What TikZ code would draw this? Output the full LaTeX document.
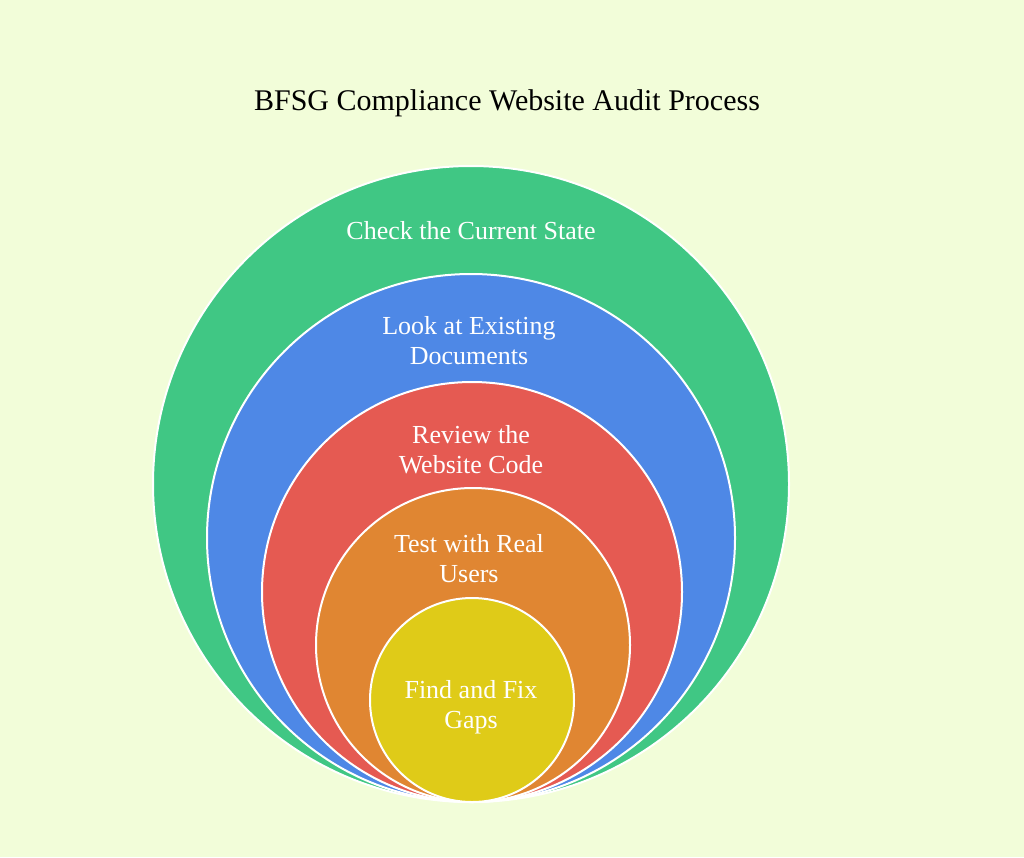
\documentclass[tikz,border=0pt]{standalone}
\usepackage{fontspec}
\setmainfont{Liberation Serif}
\begin{document}
\begin{tikzpicture}[x=1pt,y=-1pt,
  ring/.style={circle,draw=white,line width=2pt,inner sep=0pt},
  lbl/.style={text=white,font=\fontsize{26}{30}\selectfont,align=center}]
\fill[fill={rgb,255:red,242;green,253;blue,217}] (0,0) rectangle (1024,857);
\useasboundingbox (0,0) rectangle (1024,857);
\node[font=\fontsize{30}{34}\selectfont] (title) at (507,103) {BFSG Compliance Website Audit Process};
\node[ring,fill={rgb,255:red,64;green,199;blue,132},minimum size=636pt] (c1) at (471,484) {};
\node[ring,fill={rgb,255:red,78;green,136;blue,230},minimum size=528pt] (c2) at (471,538) {};
\node[ring,fill={rgb,255:red,229;green,90;blue,82},minimum size=420pt] (c3) at (472,592) {};
\node[ring,fill={rgb,255:red,224;green,134;blue,50},minimum size=314pt] (c4) at (473,645) {};
\node[ring,fill={rgb,255:red,223;green,203;blue,24},minimum size=204pt] (c5) at (472,700) {};
\node[lbl] (t1) at (471,231) {Check the Current State};
\node[lbl] (t2) at (469,341) {Look at Existing\\Documents};
\node[lbl] (t3) at (471,450) {Review the\\Website Code};
\node[lbl] (t4) at (469,559) {Test with Real\\Users};
\node[lbl] (t5) at (471,707) {Find and Fix\\Gaps};
\end{tikzpicture}
\end{document}
